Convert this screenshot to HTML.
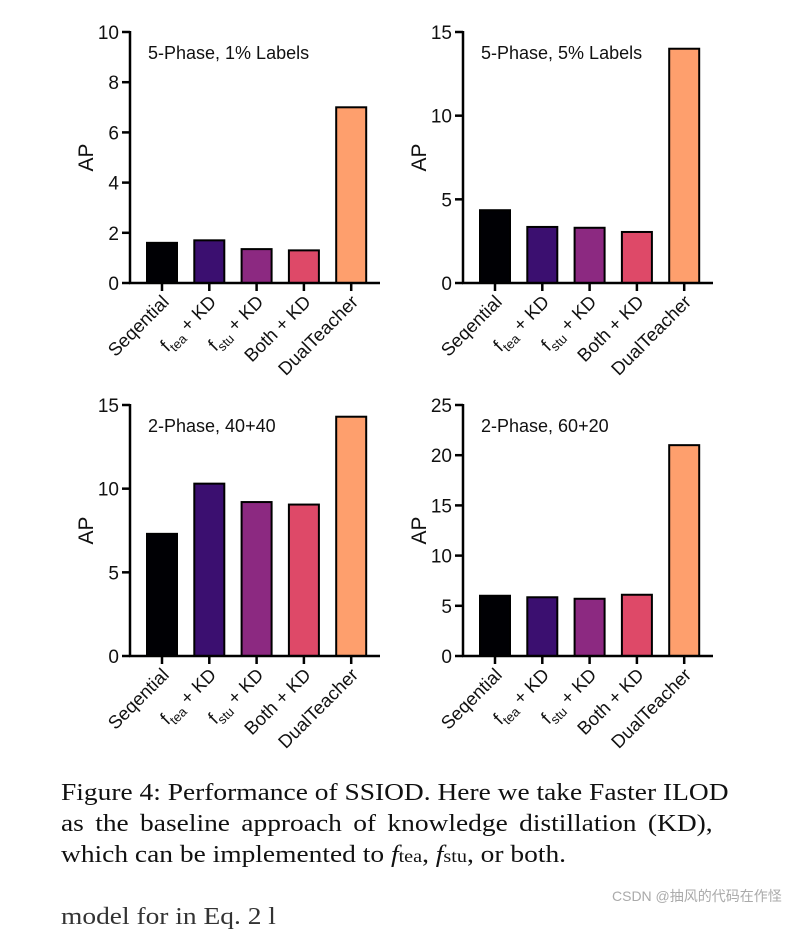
<!DOCTYPE html>
<html><head><meta charset="utf-8"><style>
body{margin:0;background:#fff;width:795px;height:910px;overflow:hidden;position:relative}
svg text{font-family:"Liberation Sans",sans-serif}
.cap{position:absolute;left:61px;font-family:"Liberation Serif",serif;font-size:24.5px;color:#111;white-space:nowrap;transform-origin:0 0;transform:scaleX(1.12)}
</style></head><body>
<svg id="fig" width="795" height="760" style="position:absolute;left:0;top:0"></svg>
<div class="cap" style="top:779px">Figure 4: Performance of SSIOD. Here we take Faster ILOD</div>
<div class="cap" style="top:810px;word-spacing:4px">as the baseline approach of knowledge distillation (KD),</div>
<div class="cap" style="top:841px">which can be implemented to <i>f</i><span style="font-size:18px">tea</span>, <i>f</i><span style="font-size:18px">stu</span>, or both.</div>
<div class="cap" style="top:903px;color:#333">model for in Eq. 2 l</div>
<div style="position:absolute;left:612px;top:886px;font-family:'Liberation Sans','Noto Sans CJK SC',sans-serif;font-size:14px;color:#aaa">CSDN @抽风的代码在作怪</div>
<script>
const categories=["Seqential","ftea + KD","fstu + KD","Both + KD","DualTeacher"];
const titles=["5-Phase, 1% Labels","5-Phase, 5% Labels","2-Phase, 40+40","2-Phase, 60+20"];
const valuesA=[1.6,1.7,1.35,1.3,7.0];
const valuesB=[4.35,3.35,3.3,3.05,14.0];
const valuesC=[7.3,10.3,9.2,9.05,14.3];
const valuesD=[6.0,5.85,5.7,6.1,21.0];
const ticksA=[0,2,4,6,8,10];
const ticksB=[0,5,10,15];
const ticksC=[0,5,10,15];
const ticksD=[0,5,10,15,20,25];
const colors=["#000004","#3b0f70","#8c2981","#de4968","#fe9f6d"];
const svg=document.getElementById('fig');const NS="http://www.w3.org/2000/svg";
function mk(t,a,p){const e=document.createElementNS(NS,t);for(const k in a)e.setAttribute(k,a[k]);(p||svg).appendChild(e);return e;}
const panels=[{x:130,y0:283,y1:32,v:valuesA,t:ticksA},{x:463,y0:283,y1:32,v:valuesB,t:ticksB},{x:130,y0:656,y1:405,v:valuesC,t:ticksC},{x:463,y0:656,y1:405,v:valuesD,t:ticksD}];
panels.forEach((p,pi)=>{
 const g=mk('g',{});
 
 
 const max=p.t[p.t.length-1];
 const ys=v=>p.y0-(p.y0-p.y1)*v/max;
 const xs=i=>p.x+32+i*47.3;
 p.v.forEach((v,i)=>{
  const r=mk('rect',{x:xs(i)-15,y:ys(v),width:30,height:p.y0-ys(v),fill:colors[i],stroke:'#000','stroke-width':2},g);
  
  
 });
 const ya=mk('line',{x1:p.x,y1:p.y1-1,x2:p.x,y2:p.y0,stroke:'#000','stroke-width':2.5},g);
 
 
 const xa=mk('line',{x1:p.x-1,y1:p.y0,x2:p.x+250,y2:p.y0,stroke:'#000','stroke-width':2.5},g);
 
 
 p.t.forEach(t=>{
  mk('line',{x1:p.x-8,y1:ys(t),x2:p.x,y2:ys(t),stroke:'#000','stroke-width':2.5},g);
  const tl=mk('text',{x:p.x-11,y:ys(t)+7,'text-anchor':'end','font-size':19,fill:'#111'},g);
  tl.textContent=t;
  
  
 });
 categories.forEach((c,i)=>{
  mk('line',{x1:xs(i),y1:p.y0,x2:xs(i),y2:p.y0+8,stroke:'#000','stroke-width':2.5},g);
  const ax=xs(i)+8, ay=p.y0+20;
  const tx=mk('text',{x:ax,y:ay,'text-anchor':'end','font-size':18.5,fill:'#111',transform:`rotate(-45 ${ax} ${ay})`},g);
  
  
  if(c.startsWith('f')){
   tx.innerHTML='f<tspan font-size="13" dy="5">'+c.slice(1,4)+'</tspan><tspan dy="-5"> + KD</tspan>';
  } else tx.textContent=c;
 });
 const ay=(p.y0+p.y1)/2;
 const al=mk('text',{x:p.x-44,y:ay+7,'text-anchor':'middle','font-size':21,fill:'#111',transform:`rotate(-90 ${p.x-44} ${ay})`},g);
 al.textContent='AP';
 
 
 const tt=mk('text',{x:p.x+18,y:p.y1+27,'font-size':18,fill:'#111'},g);
 tt.textContent=titles[pi];
 
 
});
</script>
</body></html>
